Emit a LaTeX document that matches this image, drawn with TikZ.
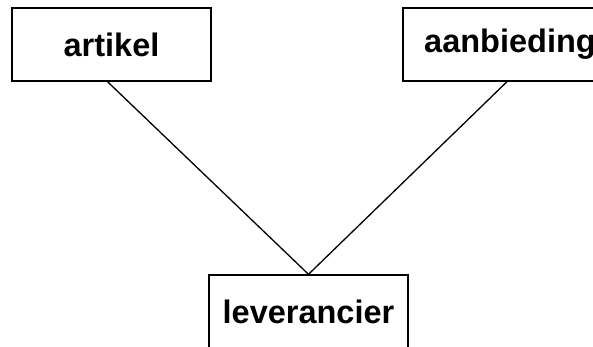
\documentclass[tikz,border=0pt]{standalone}
\usepackage{fontspec}
\setmainfont{Liberation Sans}
\begin{document}
\begin{tikzpicture}[x=1pt,y=-1pt,
  entity/.style={draw, line width=1.4pt, rectangle, inner sep=0pt,
    minimum height=73pt, font=\fontsize{32.5}{38}\selectfont\bfseries},
  link/.style={line width=1.3pt}]
\useasboundingbox (0,0) rectangle (593,347);
\node[entity, minimum width=199pt] (artikel) at (111.5,44.5) {artikel};
\node[entity, minimum width=214pt] (aanbieding) at (510,44.5) {aanbieding};
\node[entity, minimum width=199pt] (leverancier) at (308.5,311.5) {leverancier};
\draw[link] ([xshift=-4pt]artikel.south) -- (leverancier.north);
\draw[link] ([xshift=-3pt]aanbieding.south) -- (leverancier.north);
\end{tikzpicture}
\end{document}
